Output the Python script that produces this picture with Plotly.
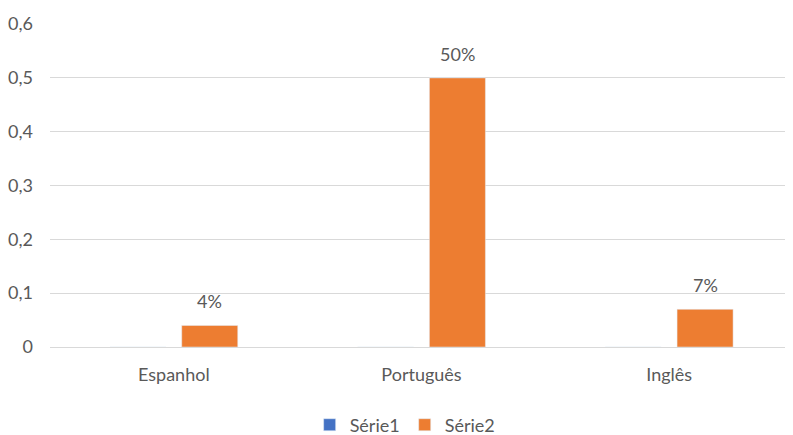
import plotly.graph_objects as go

categories = ["Espanhol", "Português", "Inglês"]
serie1 = [0, 0, 0]
serie2 = [0.04, 0.5, 0.07]
serie2_labels = ["4%", "50%", "7%"]
y_tickvals = [0, 0.1, 0.2, 0.3, 0.4, 0.5, 0.6]
y_ticktext = ["0", "0,1", "0,2", "0,3", "0,4", "0,5", "0,6"]

FONT = "Lato"
TXT = "#595959"
FS = 18

fig = go.Figure()
fig.add_trace(go.Bar(name="Série1", x=categories, y=serie1, marker_color="#4472C4"))
fig.add_trace(go.Bar(name="Série2", x=categories, y=serie2, marker_color="#ED7D31"))

for c, v, t in zip(categories, serie2, serie2_labels):
    fig.add_annotation(x=c, y=v, text=t, showarrow=False, xshift=36, yshift=11,
                       yanchor="bottom", font=dict(family=FONT, size=FS, color=TXT))

# page body has an 8px margin, so the figure is sized/positioned to compensate
fig.update_layout(
    width=785, height=427,
    margin=dict(l=42, r=0, t=16, b=88, autoexpand=False),
    paper_bgcolor="white", plot_bgcolor="white",
    barmode="group", bargap=0.42, bargroupgap=0.22,
    font=dict(family=FONT, size=FS, color=TXT),
    showlegend=True,
    legend=dict(orientation="h", x=0.478, xanchor="center", y=-0.2415, yanchor="middle",
                font=dict(family=FONT, size=FS, color=TXT), itemwidth=30,
                traceorder="normal"),
)
fig.update_xaxes(showgrid=False, showline=False, ticks="", ticklabelstandoff=15,
                 automargin=False, tickfont=dict(family=FONT, size=FS, color=TXT))
fig.update_yaxes(range=[0, 0.6001], tickvals=y_tickvals, ticktext=y_ticktext,
                 showgrid=True, gridcolor="#D9D9D9", gridwidth=1,
                 zeroline=True, zerolinecolor="#D9D9D9", zerolinewidth=1,
                 showline=False, ticks="", ticklabelstandoff=16, automargin=False,
                 tickfont=dict(family=FONT, size=FS, color=TXT))

fig.write_html("out.html")
